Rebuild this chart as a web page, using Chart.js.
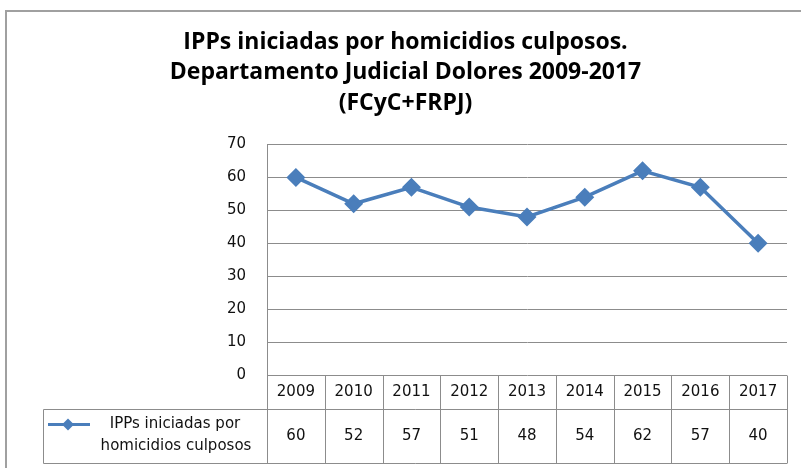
<!DOCTYPE html>
<html>
<head>
<meta charset="utf-8">
<script src="https://cdn.jsdelivr.net/npm/chart.js@4"></script>
<style>
  html, body { margin: 0; padding: 0; background: #fff; }
  #wrap { width: 801px; height: 468px; }
</style>
</head>
<body>
<div id="wrap"><canvas id="lineChart" width="801" height="468"></canvas></div>
<script>
const years = ['2009', '2010', '2011', '2012', '2013', '2014', '2015', '2016', '2017'];
const values = [60, 52, 57, 51, 48, 54, 62, 57, 40];
const seriesName = ['IPPs iniciadas por', 'homicidios culposos'];
const titleLines = ['IPPs iniciadas por homicidios culposos.', 'Departamento Judicial Dolores 2009-2017', '(FCyC+FRPJ)'];

const lineColor = '#4A7EBB';
const gridColor = '#8c8c8c';
const tableFont = '15px "DejaVu Sans", Verdana, sans-serif';

// marco exterior + tabla de datos bajo el eje
const tablePlugin = {
    id: 'dataTable',
    afterDraw(chart) {
        const ctx = chart.ctx;
        const xs = chart.scales.x;
        const area = chart.chartArea;
        const n = years.length;
        const colW = (area.right - area.left) / n;
        const top = Math.round(area.bottom) + 0.5;
        const mid = top + 34;
        const bot = top + 88;
        const legendLeft = 43.5;

        ctx.save();
        // marco
        ctx.strokeStyle = '#a0a0a0';
        ctx.lineWidth = 2;
        ctx.strokeRect(6, 11, 820, 480);

        ctx.strokeStyle = gridColor;
        ctx.lineWidth = 1;
        ctx.beginPath();
        // filas
        ctx.moveTo(legendLeft, mid); ctx.lineTo(area.right, mid);
        ctx.moveTo(legendLeft, bot); ctx.lineTo(area.right, bot);
        ctx.moveTo(legendLeft, mid); ctx.lineTo(legendLeft, bot);
        for (let i = 0; i <= n; i++) {
            const x = Math.round(area.left + i * colW) + 0.5;
            ctx.moveTo(x, top); ctx.lineTo(x, bot);
        }
        ctx.stroke();

        // textos
        ctx.fillStyle = '#111';
        ctx.font = tableFont;
        ctx.textAlign = 'center';
        ctx.textBaseline = 'middle';
        years.forEach((y, i) => {
            const cx = xs.getPixelForValue(i);
            ctx.fillText(y, cx, top + 17);
            ctx.fillText(String(values[i]), cx, mid + 27);
        });

        // leyenda
        ctx.fillText(seriesName[0], 175, mid + 15);
        ctx.fillText(seriesName[1], 176, mid + 37);
        ctx.strokeStyle = lineColor;
        ctx.lineWidth = 3;
        ctx.beginPath();
        ctx.moveTo(48, mid + 15); ctx.lineTo(90, mid + 15);
        ctx.stroke();
        ctx.fillStyle = lineColor;
        ctx.beginPath();
        ctx.moveTo(68, mid + 9); ctx.lineTo(74, mid + 15); ctx.lineTo(68, mid + 21); ctx.lineTo(62, mid + 15);
        ctx.closePath();
        ctx.fill();
        ctx.restore();
    }
};

new Chart(document.getElementById('lineChart').getContext('2d'), {
    type: 'line',
    data: {
        labels: years,
        datasets: [{
            label: seriesName.join(' '),
            data: values,
            borderColor: lineColor,
            backgroundColor: lineColor,
            borderWidth: 3.5,
            tension: 0,
            pointStyle: 'rectRot',
            pointRadius: 7,
            pointBackgroundColor: lineColor,
            pointBorderColor: lineColor
        }]
    },
    options: {
        responsive: false,
        animation: false,
        layout: { padding: { left: 24, right: 14, top: 0, bottom: 93 } },
        plugins: {
            legend: { display: false },
            tooltip: { enabled: false },
            title: {
                display: true,
                text: titleLines,
                color: '#000',
                font: { family: "'Open Sans', sans-serif", size: 23, weight: 'bold', lineHeight: 1.326 },
                padding: { top: 27, bottom: 26 }
            }
        },
        scales: {
            x: {
                offset: true,
                grid: { display: false },
                border: { display: false },
                ticks: { display: false },
                afterFit(scale) { scale.height = 0; }
            },
            y: {
                min: 0,
                max: 70,
                ticks: {
                    stepSize: 10,
                    color: '#111',
                    padding: 21,
                    font: { family: "'DejaVu Sans', Verdana, sans-serif", size: 15 }
                },
                grid: { color: gridColor, lineWidth: 1, drawTicks: false },
                border: { color: gridColor, width: 1 },
                afterFit(scale) { scale.width = 243; }
            }
        }
    },
    plugins: [tablePlugin]
});
</script>
</body>
</html>
